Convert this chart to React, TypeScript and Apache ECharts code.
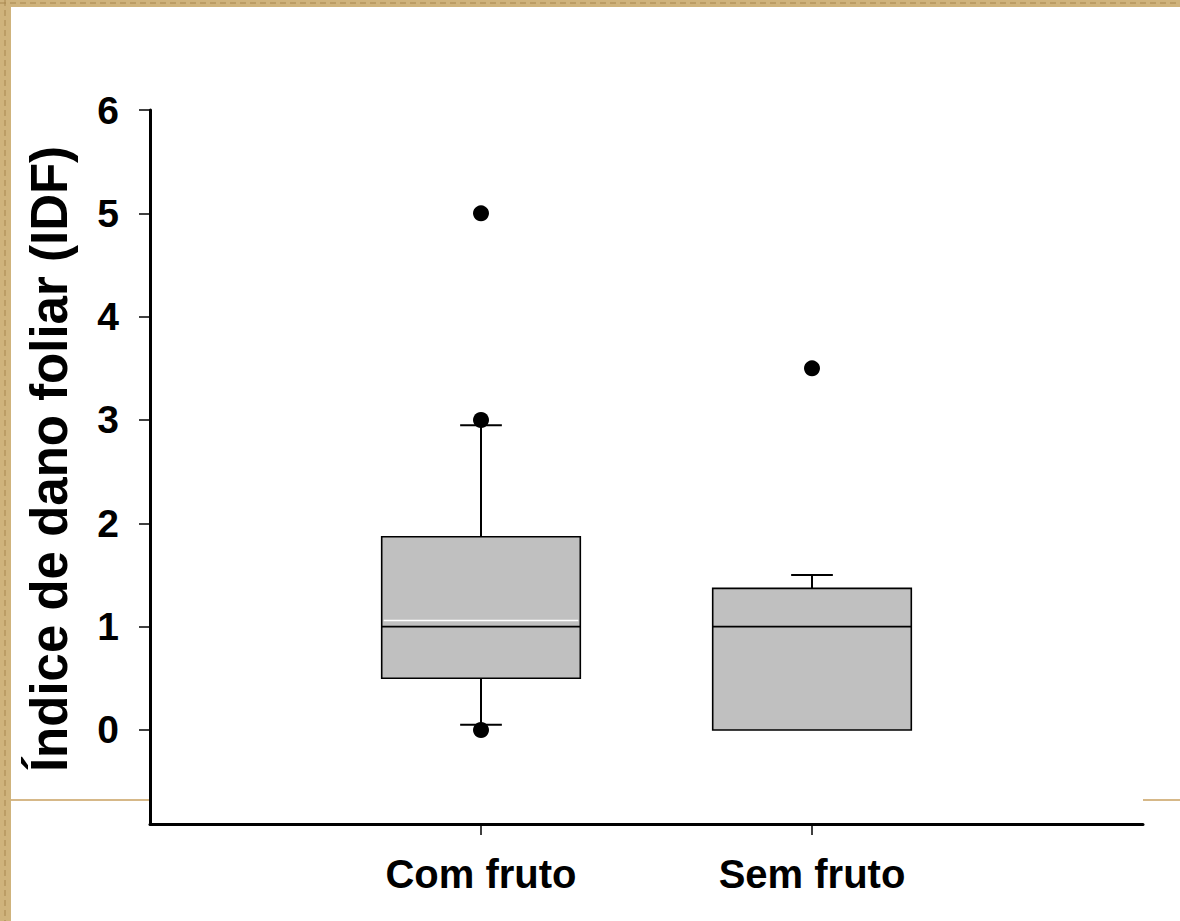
import React, { useEffect, useRef } from "react";
import * as echarts from "echarts";

const categories = ["Com fruto", "Sem fruto"];
const whiskerLow = [0.05, 0];
const q1 = [0.5, 0];
const median = [1.0, 1.0];
const q3 = [1.87, 1.37];
const whiskerHigh = [2.95, 1.5];
const meanValues: (number | null)[] = [1.06, null];
const outliers = [[5.0, 3.0, 0.0], [3.5]];
const yTicks = [0, 1, 2, 3, 4, 5, 6];
const yTitle = "Índice de dano foliar (IDF)";

const FONT = "'Liberation Sans', Arial, sans-serif";

export default function App() {
  const ref = useRef<HTMLDivElement>(null);
  useEffect(() => {
    if (!ref.current) return;
    const chart = echarts.init(ref.current, undefined, { renderer: "svg" });

    const boxData = categories.map((_, i) => [
      i + 1,
      whiskerLow[i],
      q1[i],
      median[i],
      q3[i],
      whiskerHigh[i],
    ]);
    const meanData: number[][] = [];
    meanValues.forEach((m, i) => {
      if (m !== null) meanData.push([i + 1, m]);
    });
    const outlierData: number[][] = [];
    outliers.forEach((arr, i) => arr.forEach((v) => outlierData.push([i + 1, v])));

    const option: any = {
      animation: false,
      backgroundColor: "#ffffff",
      grid: { left: 150, right: 37, top: 110, bottom: 97, containLabel: false },
      xAxis: {
        type: "value",
        min: 0,
        max: 3,
        splitLine: { show: false },
        axisLine: { show: true, onZero: false, lineStyle: { color: "#000", width: 3 } },
        axisTick: { show: true, customValues: [1, 2], length: 11, lineStyle: { color: "#000", width: 1.5 } },
        axisLabel: {
          show: true,
          customValues: [1, 2],
          formatter: (v: number) => categories[Math.round(v) - 1] ?? "",
          color: "#000",
          fontFamily: FONT,
          fontWeight: "bold",
          fontSize: 40,
          margin: 30,
        },
      },
      yAxis: {
        type: "value",
        min: -0.91,
        max: 6,
        splitLine: { show: false },
        axisLine: { show: true, onZero: false, lineStyle: { color: "#000", width: 3 } },
        axisTick: { show: true, customValues: yTicks, length: 11, lineStyle: { color: "#000", width: 1.5 } },
        axisLabel: {
          show: true,
          customValues: yTicks,
          color: "#000",
          fontFamily: FONT,
          fontWeight: "bold",
          fontSize: 39,
          margin: 31,
        },
      },
      graphic: [
        { type: "rect", z: -10, shape: { x: 0, y: 0, width: 1180, height: 7 }, style: { fill: "#cfb37c" }, silent: true },
        { type: "rect", z: -10, shape: { x: 0, y: 0, width: 11, height: 921 }, style: { fill: "#cfb37c" }, silent: true },
        { type: "line", z: -10, shape: { x1: 0, y1: 3, x2: 1180, y2: 3 }, style: { stroke: "#a8874f", lineWidth: 1, lineDash: [6, 4] }, silent: true },
        { type: "line", z: -10, shape: { x1: 5, y1: 0, x2: 5, y2: 921 }, style: { stroke: "#a8874f", lineWidth: 1, lineDash: [6, 4] }, silent: true },
        { type: "line", z: -10, shape: { x1: 11, y1: 800, x2: 150, y2: 800 }, style: { stroke: "#c9a060", lineWidth: 1.5 }, silent: true },
        { type: "line", z: -10, shape: { x1: 1143, y1: 800, x2: 1180, y2: 800 }, style: { stroke: "#c9a060", lineWidth: 1.5 }, silent: true },
        {
          type: "text",
          x: 49,
          y: 459,
          rotation: Math.PI / 2,
          style: {
            text: yTitle,
            fill: "#000",
            font: `bold 51px ${FONT}`,
            align: "center",
            verticalAlign: "middle",
          },
          silent: true,
        },
      ],
      series: [
        {
          type: "custom",
          name: "box",
          data: boxData,
          encode: { x: 0, y: [1, 2, 3, 4, 5] },
          z: 2,
          renderItem: (params: any, api: any) => {
            const x = api.value(0);
            const lo = api.value(1);
            const b1 = api.value(2);
            const md = api.value(3);
            const b3 = api.value(4);
            const hi = api.value(5);
            const unit = api.size([1, 0])[0];
            const half = unit * 0.3;
            const cap = unit * 0.063;
            const pLo = api.coord([x, lo]);
            const p1 = api.coord([x, b1]);
            const pm = api.coord([x, md]);
            const p3 = api.coord([x, b3]);
            const pHi = api.coord([x, hi]);
            const cx = p1[0];
            const children: any[] = [];
            if (hi > b3) {
              children.push({ type: "line", shape: { x1: cx, y1: p3[1], x2: cx, y2: pHi[1] }, style: { stroke: "#000", lineWidth: 2 } });
              children.push({ type: "line", shape: { x1: cx - cap, y1: pHi[1], x2: cx + cap, y2: pHi[1] }, style: { stroke: "#000", lineWidth: 2 } });
            }
            if (lo < b1) {
              children.push({ type: "line", shape: { x1: cx, y1: p1[1], x2: cx, y2: pLo[1] }, style: { stroke: "#000", lineWidth: 2 } });
              children.push({ type: "line", shape: { x1: cx - cap, y1: pLo[1], x2: cx + cap, y2: pLo[1] }, style: { stroke: "#000", lineWidth: 2 } });
            }
            children.push({
              type: "rect",
              shape: { x: cx - half, y: p3[1], width: half * 2, height: p1[1] - p3[1] },
              style: { fill: "#c0c0c0", stroke: "#000", lineWidth: 1.6 },
            });
            children.push({ type: "line", shape: { x1: cx - half, y1: pm[1], x2: cx + half, y2: pm[1] }, style: { stroke: "#000", lineWidth: 1.6 } });
            return { type: "group", children };
          },
        },
        {
          type: "custom",
          name: "mean",
          data: meanData,
          encode: { x: 0, y: 1 },
          z: 3,
          renderItem: (params: any, api: any) => {
            const x = api.value(0);
            const m = api.value(1);
            const unit = api.size([1, 0])[0];
            const half = unit * 0.3 - 2;
            const p = api.coord([x, m]);
            return {
              type: "line",
              shape: { x1: p[0] - half, y1: p[1], x2: p[0] + half, y2: p[1] },
              style: { stroke: "#ffffff", lineWidth: 1.5 },
            };
          },
        },
        {
          type: "scatter",
          name: "outliers",
          data: outlierData,
          symbol: "circle",
          symbolSize: 16,
          itemStyle: { color: "#000", opacity: 1 },
          z: 4,
        },
      ],
    };
    chart.setOption(option);
    return () => chart.dispose();
  }, []);

  return (
    <div
      ref={ref}
      style={{ position: "fixed", left: 0, top: 0, width: 1180, height: 921 }}
    />
  );
}
